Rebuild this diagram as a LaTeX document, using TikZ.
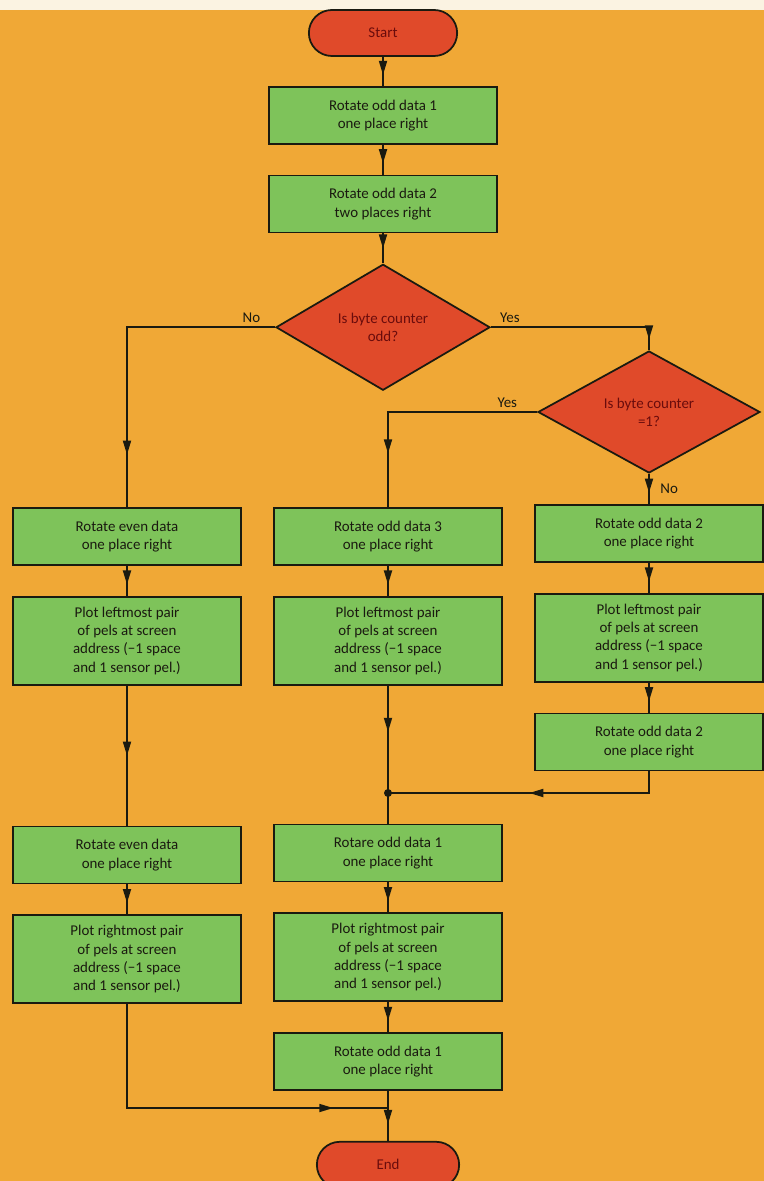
\documentclass[tikz,border=0pt]{standalone}
\usepackage{fontspec}
\setmainfont{Carlito}
\usepackage{xcolor}
\usepackage{tikz}
\usetikzlibrary{
arrows.meta,
positioning,
shapes.geometric,
shapes.misc,
decorations.markings
}

\definecolor{bgorange}{HTML}{F0A836}
\definecolor{paperwhite}{HTML}{FBF3E2}
\definecolor{boxgreen}{HTML}{7EC35A}
\definecolor{termred}{HTML}{E04A2A}
\definecolor{inkdark}{HTML}{1A1A10}
\definecolor{inkred}{HTML}{6A0C0C}

\begin{document}
\begin{tikzpicture}[
font=\fontsize{8.5}{10.4}\selectfont,
box/.style={
draw=inkdark,
line width=1pt,
fill=boxgreen,
text=inkdark,
minimum width=4.56cm,
minimum height=1.14cm,
align=center,
inner sep=2pt
},
tallbox/.style={box,minimum height=1.76cm},
term/.style={
draw=inkdark,
line width=1pt,
fill=termred,
text=inkred,
rounded rectangle,
minimum width=3.2cm,
minimum height=0.92cm
},
decision/.style={
draw=inkdark,
line width=1pt,
fill=termred,
text=inkred,
diamond,
align=center,
minimum width=4.28cm,
minimum height=2.52cm,
inner sep=0pt
},
conn/.style={draw=inkdark,line width=1pt},
flow/.style={conn,postaction={decorate,decoration={markings,
mark=at position #1 with {\arrow{Triangle[length=0.28cm,width=0.16cm]}}}}},
flow/.default=0.62,
lbl/.style={text=inkdark,inner sep=2pt}
]

\useasboundingbox (0,0) rectangle (15.28,-23.62);
\fill[bgorange] (0,0) rectangle (15.28,-23.62);
\fill[paperwhite] (0,0) rectangle (15.28,-0.2);

\node[term] (start) at (7.66,-0.66) {Start};
\node[box,below=0.58cm of start] (rot1) {Rotate odd data 1\\one place right};
\node[box,below=0.6cm of rot1] (rot2) {Rotate odd data 2\\two places right};
\node[decision,below=0.6cm of rot2] (odd) {Is byte counter\\odd?};
\node[decision,minimum width=4.44cm,minimum height=2.44cm] (one) at (12.98,-8.24) {Is byte counter\\=1?};

\node[box] (even1) at (2.54,-10.73) {Rotate even data\\one place right};
\node[tallbox,below=0.6cm of even1] (plotl1) {Plot leftmost pair\\of pels at screen\\address (−1 space\\and 1 sensor pel.)};
\node[box,below=2.8cm of plotl1] (even2) {Rotate even data\\one place right};
\node[tallbox,below=0.6cm of even2] (plotr1) {Plot rightmost pair\\of pels at screen\\address (−1 space\\and 1 sensor pel.)};

\node[box] (odd3) at (7.76,-10.73) {Rotate odd data 3\\one place right};
\node[tallbox,below=0.6cm of odd3] (plotl2) {Plot leftmost pair\\of pels at screen\\address (−1 space\\and 1 sensor pel.)};
\node[box,below=2.76cm of plotl2] (odd1a) {Rotare odd data 1\\one place right};
\node[tallbox,below=0.6cm of odd1a] (plotr2) {Plot rightmost pair\\of pels at screen\\address (−1 space\\and 1 sensor pel.)};
\node[box,below=0.6cm of plotr2] (odd1b) {Rotate odd data 1\\one place right};
\node[term,minimum width=3.08cm,below=1.0cm of odd1b] (stop) {End};

\node[box] (odd2a) at (12.98,-10.67) {Rotate odd data 2\\one place right};
\node[tallbox,below=0.6cm of odd2a] (plotl3) {Plot leftmost pair\\of pels at screen\\address (−1 space\\and 1 sensor pel.)};
\node[box,below=0.6cm of plotl3] (odd2b) {Rotate odd data 2\\one place right};

\coordinate (join) at (7.76,-15.86);
\coordinate (merge) at (7.76,-22.16);

\draw[flow] (start) -- (rot1);
\draw[flow] (rot1) -- (rot2);
\draw[flow=0.5] (rot2) -- (odd);
\draw[flow=0.84] (odd.west) -| node[lbl,pos=0.08,above] (no1) {No} (even1.north);
\draw[flow=0.94] (odd.east) -| node[lbl,pos=0.06,above] (yes1) {Yes} (one.north);
\draw[flow=0.78] (one.west) -| node[lbl,pos=0.1,above] (yes2) {Yes} (odd3.north);
\draw[flow] (one.south) -- node[lbl,right=4pt] (no2) {No} (odd2a.north);

\draw[flow] (even1) -- (plotl1);
\draw[flow=0.5] (plotl1) -- (even2);
\draw[flow] (even2) -- (plotr1);
\draw[flow=0.85] (plotr1.south) |- (merge);

\draw[flow] (odd3) -- (plotl2);
\draw[flow=0.43] (plotl2.south) -- (join);
\draw[conn] (join) -- (odd1a.north);
\draw[flow] (odd1a) -- (plotr2);
\draw[flow] (plotr2) -- (odd1b);
\draw[flow=0.66] (odd1b.south) -- (stop.north);

\draw[flow] (odd2a) -- (plotl3);
\draw[flow] (plotl3) -- (odd2b);
\draw[flow=0.5] (odd2b.south) |- (join);
\fill[inkdark] (join) circle (0.08);

\end{tikzpicture}
\end{document}
